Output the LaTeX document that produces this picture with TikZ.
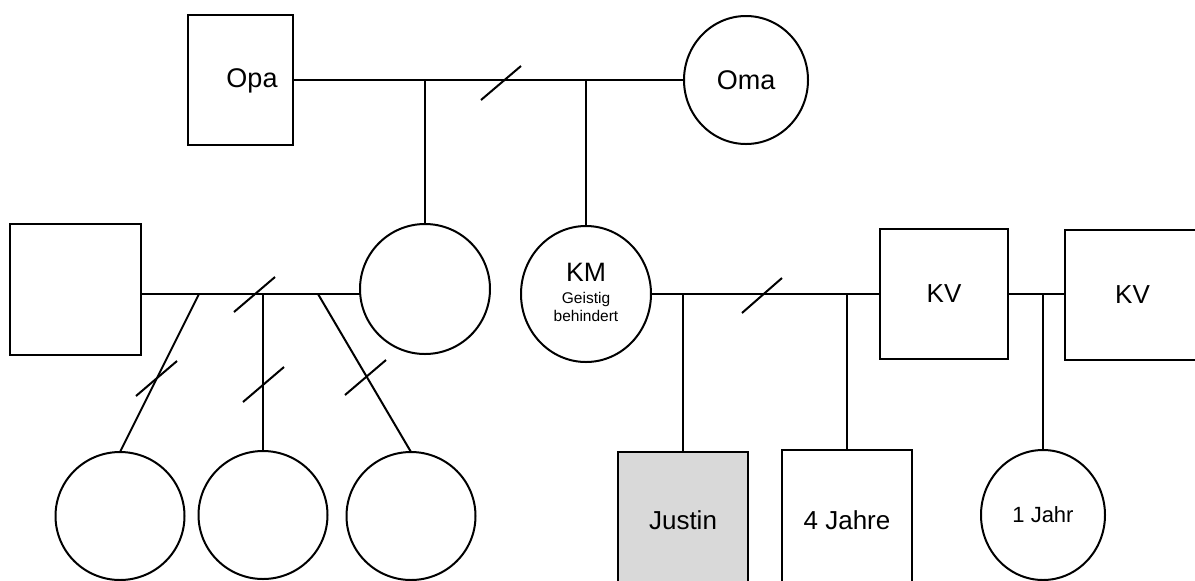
\documentclass[tikz,border=0pt]{standalone}
\usepackage{fontspec}
\setmainfont{Liberation Sans}
\usetikzlibrary{shapes.geometric}
\begin{document}
\begin{tikzpicture}[x=0.5pt,y=-0.5pt,line width=1pt,
  person/.style={draw=black,inner sep=0pt,outer sep=0pt,font=\fontsize{13}{15}\selectfont},
  male/.style={person,rectangle},
  female/.style={person,ellipse},
  nametext/.style={inner sep=0pt,font=\fontsize{13.5}{15}\selectfont},
  bigtext/.style={inner sep=0pt,font=\fontsize{13.3}{15}\selectfont},
  smalltext/.style={inner sep=0pt,font=\fontsize{7.75}{9}\selectfont},
  link/.style={draw=black,line width=1pt},
  cut/.style={draw=black,line width=1pt}]
\useasboundingbox (0,0) rectangle (1195,580);
\fill[white] (0,0) rectangle (1195,580);
\begin{scope}
\clip (0,0) rectangle (1195,580);
% generation 1
\node[male,minimum width=52.5pt,minimum height=65pt] (Opa) at (240.5,80) {};
\node[nametext,anchor=base] (OpaT) at (252,87) {Opa};
\node[female,font=\fontsize{13.5}{15}\selectfont,minimum width=62pt,minimum height=64pt] (Oma) at (746,80) {Oma};
% generation 2
\node[male,minimum width=65.5pt,minimum height=65.5pt] (L) at (75.5,289.5) {};
\node[female,minimum width=65pt,minimum height=65pt] (Mid) at (425,289) {};
\node[female,minimum width=65pt,minimum height=68pt] (KM) at (586,294) {};
\node[bigtext,anchor=base] (KMt) at (586,281) {KM};
\node[smalltext,anchor=base] (KMg) at (586,303) {Geistig};
\node[smalltext,anchor=base] (KMb) at (586,321) {behindert};
\node[male,minimum width=64pt,minimum height=65pt] (KV) at (944,294) {KV};
\node[male,minimum width=67.5pt,minimum height=65pt] (KVb) at (1132.5,295) {KV};
% generation 3
\node[female,minimum width=64.5pt,minimum height=64pt] (C1) at (120,516) {};
\node[female,minimum width=64.5pt,minimum height=64pt] (C2) at (263,515) {};
\node[female,minimum width=64.5pt,minimum height=64pt] (C3) at (411,516) {};
\node[male,fill={rgb,255:red,217;green,217;blue,217},minimum width=65pt,minimum height=68pt] (Justin) at (683,520) {Justin};
\node[male,minimum width=65pt,minimum height=70pt] (Vier) at (847,520) {4 Jahre};
\node[female,font=\fontsize{11}{13}\selectfont,minimum width=62pt,minimum height=65pt] (Eins) at (1043,515) {1 Jahr};
% couple lines
\path[link] (Opa.east) -- (Oma.west);
\path[link] (Opa.east -| Mid.north) -- (Mid.north);
\path[link] (Opa.east -| KM.north) -- (KM.north);
\coordinate (m) at (0,294);
\path[link] (L.east |- m) -- (Mid.west |- m);
\coordinate (j1) at (199,294);
\coordinate (j2) at (263,294);
\coordinate (j3) at (318,294);
\path[link] (j1) -- (C1.north);
\path[link] (j2) -- (C2.north);
\path[link] (j3) -- (C3.north);
\path[link] (KM.east) -- (KV.west);
\path[link] (KM.east -| Justin.north) -- (Justin.north);
\path[link] (KM.east -| Vier.north) -- (Vier.north);
\path[link] (KV.east) -- (KVb.west |- KV.east);
\path[link] (KV.east -| Eins.north) -- (Eins.north);
% separation marks
\draw[cut] (481,100) -- (521,66);
\draw[cut] (234,312) -- (275,277);
\draw[cut] (136,396) -- (177,361);
\draw[cut] (243,402) -- (284,367);
\draw[cut] (345,395) -- (386,360);
\draw[cut] (742,313) -- (782,278);
\end{scope}
\end{tikzpicture}
\end{document}
